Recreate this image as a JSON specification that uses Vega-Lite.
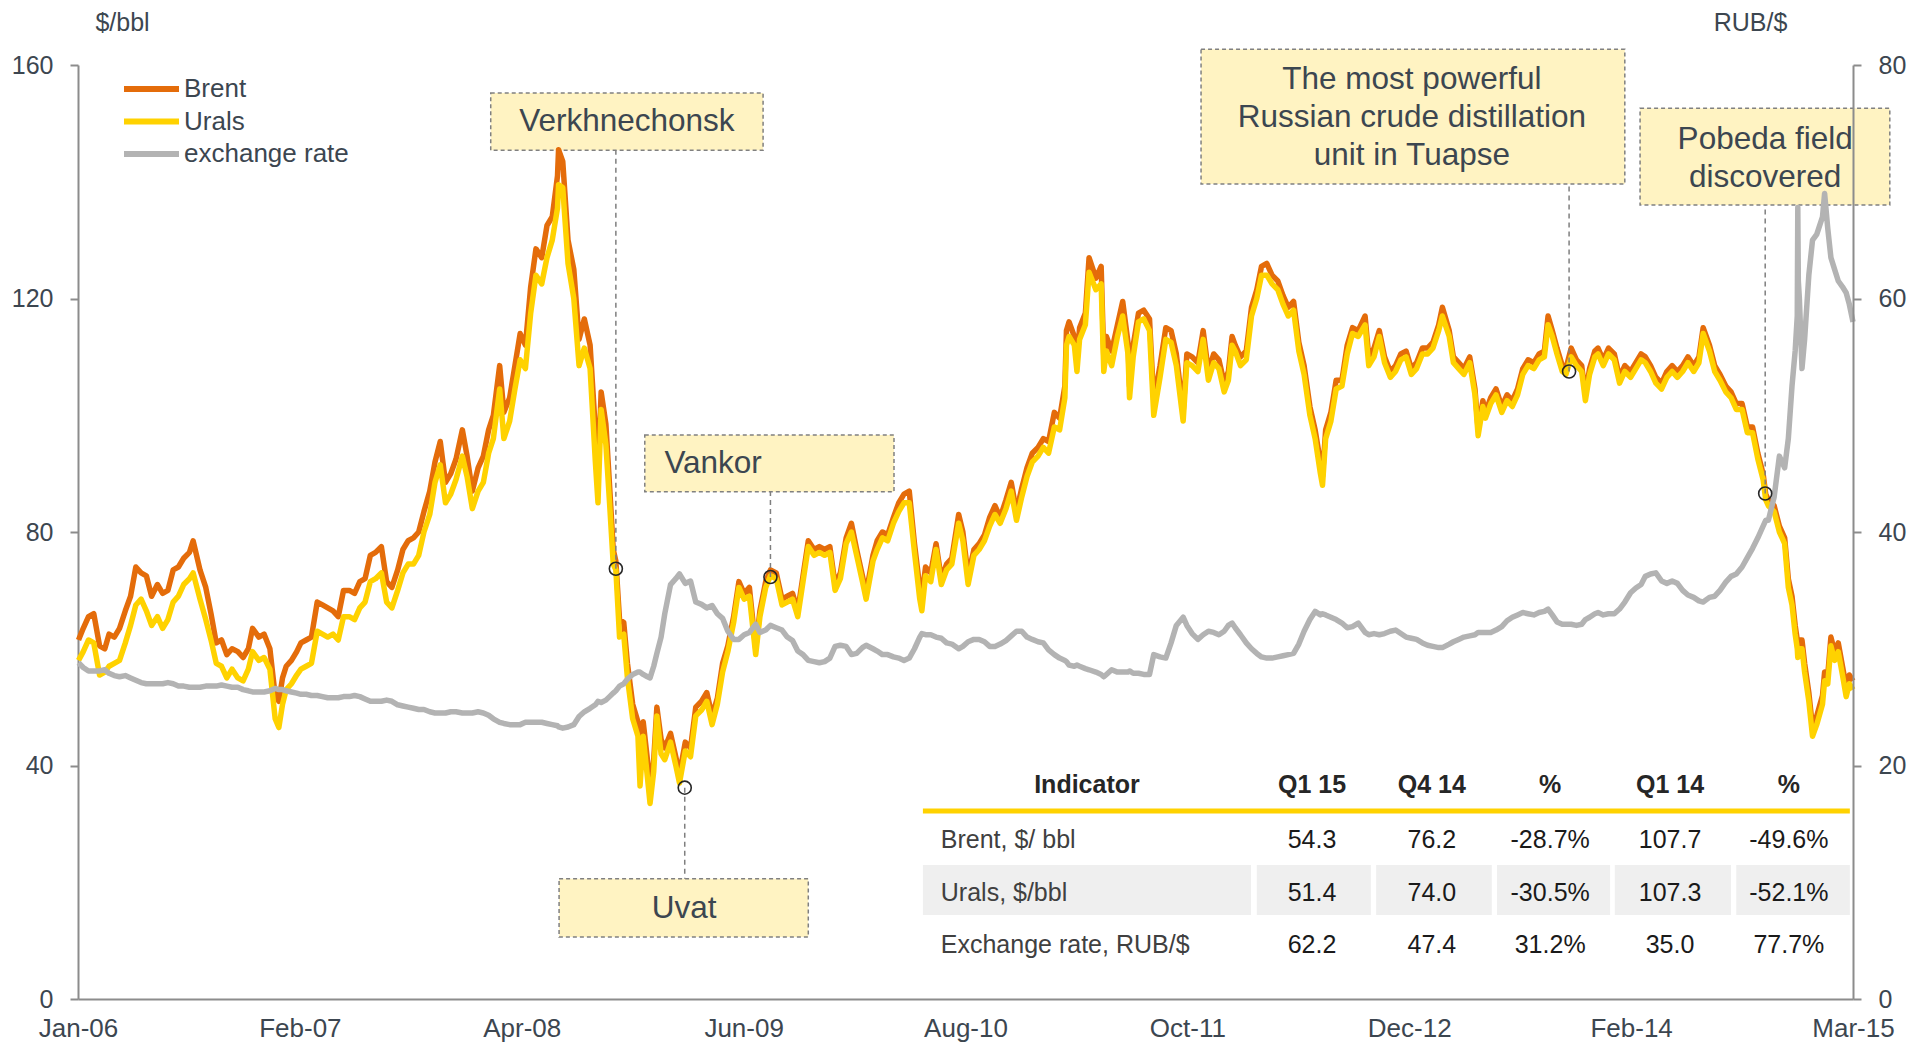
{
  "$schema": "https://vega.github.io/schema/vega-lite/v6.json",
  "width": 1775,
  "height": 934,
  "autosize": {"type": "none"},
  "padding": {"left": 78, "top": 65, "right": 73, "bottom": 46},
  "background": "white",
  "config": {
    "font": "Liberation Sans",
    "view": {"stroke": null},
    "legend": {
      "symbolType": "stroke",
      "symbolSize": 3025,
      "symbolStrokeWidth": 6,
      "clipHeight": 26,
      "rowPadding": 6.5,
      "labelOffset": 2,
      "labelFontSize": 26,
      "labelColor": "#3C4650",
      "labelLimit": 0,
      "padding": 0
    }
  },
  "datasets": {
    "prices": [
      {"d": "2006-01-02", "Brent": 61.5, "Urals": 58.0, "rub": 28.8},
      {"d": "2006-01-11", "Brent": 63.5, "Urals": 59.5, "rub": 28.4},
      {"d": "2006-01-21", "Brent": 65.5, "Urals": 61.5, "rub": 28.1},
      {"d": "2006-01-31", "Brent": 66.0, "Urals": 61.0, "rub": 28.1},
      {"d": "2006-02-11", "Brent": 60.5, "Urals": 55.5, "rub": 28.1},
      {"d": "2006-02-21", "Brent": 60.0, "Urals": 56.0, "rub": 28.2},
      {"d": "2006-03-01", "Brent": 62.5, "Urals": 57.0, "rub": 27.9},
      {"d": "2006-03-11", "Brent": 62.0, "Urals": 57.5, "rub": 27.7},
      {"d": "2006-03-21", "Brent": 63.5, "Urals": 58.0, "rub": 27.6},
      {"d": "2006-04-01", "Brent": 66.5, "Urals": 61.0, "rub": 27.7},
      {"d": "2006-04-11", "Brent": 69.0, "Urals": 64.0, "rub": 27.5},
      {"d": "2006-04-21", "Brent": 74.0, "Urals": 67.5, "rub": 27.3},
      {"d": "2006-05-01", "Brent": 73.0, "Urals": 68.5, "rub": 27.1},
      {"d": "2006-05-11", "Brent": 72.5, "Urals": 66.5, "rub": 27.0},
      {"d": "2006-05-21", "Brent": 69.0, "Urals": 64.0, "rub": 27.0},
      {"d": "2006-06-01", "Brent": 71.0, "Urals": 65.5, "rub": 27.0},
      {"d": "2006-06-11", "Brent": 69.5, "Urals": 63.5, "rub": 27.0},
      {"d": "2006-06-21", "Brent": 70.0, "Urals": 65.0, "rub": 27.1},
      {"d": "2006-07-01", "Brent": 73.5, "Urals": 68.0, "rub": 27.0},
      {"d": "2006-07-11", "Brent": 74.0, "Urals": 69.0, "rub": 26.8},
      {"d": "2006-07-21", "Brent": 75.5, "Urals": 71.0, "rub": 26.8},
      {"d": "2006-08-01", "Brent": 76.5, "Urals": 72.0, "rub": 26.7},
      {"d": "2006-08-08", "Brent": 78.5, "Urals": 73.0, "rub": 26.7},
      {"d": "2006-08-21", "Brent": 73.5, "Urals": 68.5, "rub": 26.7},
      {"d": "2006-09-01", "Brent": 70.5, "Urals": 65.0, "rub": 26.8},
      {"d": "2006-09-11", "Brent": 66.0, "Urals": 61.5, "rub": 26.8},
      {"d": "2006-09-21", "Brent": 61.0, "Urals": 57.5, "rub": 26.8},
      {"d": "2006-10-01", "Brent": 61.5, "Urals": 57.0, "rub": 26.9},
      {"d": "2006-10-11", "Brent": 59.0, "Urals": 55.0, "rub": 26.8},
      {"d": "2006-10-21", "Brent": 60.0, "Urals": 56.5, "rub": 26.7},
      {"d": "2006-11-01", "Brent": 59.5, "Urals": 55.0, "rub": 26.7},
      {"d": "2006-11-11", "Brent": 58.5, "Urals": 54.5, "rub": 26.5},
      {"d": "2006-11-21", "Brent": 60.0, "Urals": 56.5, "rub": 26.4},
      {"d": "2006-11-29", "Brent": 63.5, "Urals": 59.5, "rub": 26.3},
      {"d": "2006-12-11", "Brent": 62.0, "Urals": 58.0, "rub": 26.3},
      {"d": "2006-12-21", "Brent": 62.5, "Urals": 58.5, "rub": 26.3},
      {"d": "2007-01-01", "Brent": 60.0, "Urals": 56.5, "rub": 26.4},
      {"d": "2007-01-11", "Brent": 52.0, "Urals": 48.0, "rub": 26.6},
      {"d": "2007-01-18", "Brent": 51.0, "Urals": 46.5, "rub": 26.5},
      {"d": "2007-01-25", "Brent": 55.0, "Urals": 50.5, "rub": 26.5},
      {"d": "2007-02-01", "Brent": 57.0, "Urals": 53.0, "rub": 26.4},
      {"d": "2007-02-11", "Brent": 58.0, "Urals": 54.0, "rub": 26.3},
      {"d": "2007-02-21", "Brent": 59.5, "Urals": 55.5, "rub": 26.2},
      {"d": "2007-03-01", "Brent": 61.0, "Urals": 56.5, "rub": 26.1},
      {"d": "2007-03-11", "Brent": 61.5, "Urals": 57.0, "rub": 26.1},
      {"d": "2007-03-21", "Brent": 62.0, "Urals": 57.5, "rub": 26.0},
      {"d": "2007-04-01", "Brent": 68.0, "Urals": 63.0, "rub": 26.0},
      {"d": "2007-04-11", "Brent": 67.5, "Urals": 62.5, "rub": 25.9},
      {"d": "2007-04-21", "Brent": 67.0, "Urals": 62.0, "rub": 25.8},
      {"d": "2007-05-01", "Brent": 66.5, "Urals": 62.5, "rub": 25.8},
      {"d": "2007-05-11", "Brent": 65.5, "Urals": 61.5, "rub": 25.8},
      {"d": "2007-05-21", "Brent": 70.0, "Urals": 65.5, "rub": 25.9},
      {"d": "2007-06-01", "Brent": 70.0, "Urals": 65.5, "rub": 25.9},
      {"d": "2007-06-11", "Brent": 69.5, "Urals": 65.0, "rub": 26.0},
      {"d": "2007-06-21", "Brent": 71.5, "Urals": 67.0, "rub": 25.9},
      {"d": "2007-07-01", "Brent": 72.0, "Urals": 68.0, "rub": 25.7},
      {"d": "2007-07-11", "Brent": 76.0, "Urals": 71.5, "rub": 25.5},
      {"d": "2007-07-21", "Brent": 76.5, "Urals": 72.0, "rub": 25.5},
      {"d": "2007-08-01", "Brent": 77.5, "Urals": 73.0, "rub": 25.5},
      {"d": "2007-08-11", "Brent": 71.5, "Urals": 68.0, "rub": 25.6},
      {"d": "2007-08-21", "Brent": 70.5, "Urals": 67.0, "rub": 25.5},
      {"d": "2007-09-01", "Brent": 73.5, "Urals": 70.0, "rub": 25.2},
      {"d": "2007-09-11", "Brent": 77.0, "Urals": 73.0, "rub": 25.1},
      {"d": "2007-09-21", "Brent": 78.5, "Urals": 74.5, "rub": 25.0},
      {"d": "2007-10-01", "Brent": 79.0, "Urals": 74.5, "rub": 24.9},
      {"d": "2007-10-11", "Brent": 80.0, "Urals": 76.0, "rub": 24.8},
      {"d": "2007-10-21", "Brent": 83.5, "Urals": 80.0, "rub": 24.8},
      {"d": "2007-11-01", "Brent": 87.0, "Urals": 83.0, "rub": 24.6},
      {"d": "2007-11-11", "Brent": 92.0, "Urals": 88.5, "rub": 24.5},
      {"d": "2007-11-21", "Brent": 95.5, "Urals": 91.5, "rub": 24.5},
      {"d": "2007-12-01", "Brent": 88.5, "Urals": 85.0, "rub": 24.5},
      {"d": "2007-12-11", "Brent": 90.0, "Urals": 86.5, "rub": 24.6},
      {"d": "2007-12-21", "Brent": 92.5, "Urals": 89.0, "rub": 24.6},
      {"d": "2008-01-02", "Brent": 97.5, "Urals": 93.0, "rub": 24.5},
      {"d": "2008-01-11", "Brent": 93.0, "Urals": 89.5, "rub": 24.5},
      {"d": "2008-01-21", "Brent": 87.0, "Urals": 84.0, "rub": 24.5},
      {"d": "2008-02-01", "Brent": 91.0, "Urals": 87.0, "rub": 24.6},
      {"d": "2008-02-11", "Brent": 93.0, "Urals": 88.5, "rub": 24.5},
      {"d": "2008-02-21", "Brent": 97.5, "Urals": 93.5, "rub": 24.3},
      {"d": "2008-03-01", "Brent": 100.0, "Urals": 96.0, "rub": 24.0},
      {"d": "2008-03-13", "Brent": 108.5, "Urals": 104.5, "rub": 23.7},
      {"d": "2008-03-21", "Brent": 100.5, "Urals": 96.0, "rub": 23.6},
      {"d": "2008-04-01", "Brent": 103.0, "Urals": 99.0, "rub": 23.5},
      {"d": "2008-04-11", "Brent": 108.5, "Urals": 104.5, "rub": 23.5},
      {"d": "2008-04-21", "Brent": 114.0, "Urals": 109.5, "rub": 23.5},
      {"d": "2008-05-01", "Brent": 112.0, "Urals": 108.0, "rub": 23.7},
      {"d": "2008-05-11", "Brent": 122.0, "Urals": 117.5, "rub": 23.7},
      {"d": "2008-05-21", "Brent": 128.5, "Urals": 124.0, "rub": 23.7},
      {"d": "2008-06-01", "Brent": 127.0, "Urals": 122.5, "rub": 23.7},
      {"d": "2008-06-11", "Brent": 132.5, "Urals": 127.0, "rub": 23.6},
      {"d": "2008-06-21", "Brent": 134.0, "Urals": 130.0, "rub": 23.5},
      {"d": "2008-07-01", "Brent": 141.0, "Urals": 135.5, "rub": 23.4},
      {"d": "2008-07-03", "Brent": 145.5, "Urals": 139.5, "rub": 23.3},
      {"d": "2008-07-11", "Brent": 143.5, "Urals": 139.0, "rub": 23.2},
      {"d": "2008-07-21", "Brent": 130.0, "Urals": 126.0, "rub": 23.3},
      {"d": "2008-08-01", "Brent": 125.0, "Urals": 120.0, "rub": 23.5},
      {"d": "2008-08-11", "Brent": 113.0, "Urals": 108.5, "rub": 24.2},
      {"d": "2008-08-21", "Brent": 116.5, "Urals": 111.5, "rub": 24.6},
      {"d": "2008-09-01", "Brent": 112.0, "Urals": 108.0, "rub": 24.9},
      {"d": "2008-09-11", "Brent": 97.5, "Urals": 92.0, "rub": 25.2},
      {"d": "2008-09-16", "Brent": 89.5, "Urals": 85.0, "rub": 25.5},
      {"d": "2008-09-22", "Brent": 104.0, "Urals": 101.0, "rub": 25.4},
      {"d": "2008-10-01", "Brent": 98.5, "Urals": 95.0, "rub": 25.6},
      {"d": "2008-10-08", "Brent": 88.0, "Urals": 85.0, "rub": 25.9},
      {"d": "2008-10-15", "Brent": 77.0, "Urals": 74.5, "rub": 26.2},
      {"d": "2008-10-20", "Brent": 75.0, "Urals": 73.5, "rub": 26.4},
      {"d": "2008-10-27", "Brent": 65.0, "Urals": 62.0, "rub": 26.8},
      {"d": "2008-11-04", "Brent": 64.5, "Urals": 62.5, "rub": 27.0},
      {"d": "2008-11-11", "Brent": 57.5, "Urals": 55.0, "rub": 27.4},
      {"d": "2008-11-21", "Brent": 50.5, "Urals": 48.0, "rub": 27.8},
      {"d": "2008-12-01", "Brent": 47.5, "Urals": 45.0, "rub": 28.0},
      {"d": "2008-12-05", "Brent": 41.0, "Urals": 36.5, "rub": 28.0},
      {"d": "2008-12-11", "Brent": 47.5, "Urals": 45.0, "rub": 27.8},
      {"d": "2008-12-19", "Brent": 41.0, "Urals": 38.0, "rub": 27.6},
      {"d": "2008-12-24", "Brent": 35.5, "Urals": 33.5, "rub": 27.5},
      {"d": "2008-12-31", "Brent": 41.0, "Urals": 39.0, "rub": 28.5},
      {"d": "2009-01-06", "Brent": 50.0, "Urals": 48.5, "rub": 29.6},
      {"d": "2009-01-14", "Brent": 44.5, "Urals": 42.0, "rub": 31.0},
      {"d": "2009-01-21", "Brent": 43.0, "Urals": 41.0, "rub": 33.0},
      {"d": "2009-02-01", "Brent": 45.5, "Urals": 44.0, "rub": 35.5},
      {"d": "2009-02-11", "Brent": 41.5, "Urals": 40.0, "rub": 36.0},
      {"d": "2009-02-18", "Brent": 38.5, "Urals": 37.0, "rub": 36.4},
      {"d": "2009-03-01", "Brent": 44.0, "Urals": 42.5, "rub": 35.6},
      {"d": "2009-03-11", "Brent": 43.0, "Urals": 41.5, "rub": 35.8},
      {"d": "2009-03-21", "Brent": 50.0, "Urals": 48.5, "rub": 34.0},
      {"d": "2009-04-01", "Brent": 51.0, "Urals": 49.5, "rub": 33.8},
      {"d": "2009-04-11", "Brent": 52.5, "Urals": 51.0, "rub": 33.5},
      {"d": "2009-04-21", "Brent": 48.5, "Urals": 47.0, "rub": 33.7},
      {"d": "2009-05-01", "Brent": 51.5, "Urals": 50.5, "rub": 33.0},
      {"d": "2009-05-11", "Brent": 57.5, "Urals": 56.0, "rub": 32.6},
      {"d": "2009-05-21", "Brent": 60.5, "Urals": 59.5, "rub": 31.5},
      {"d": "2009-06-01", "Brent": 65.5, "Urals": 64.5, "rub": 30.8},
      {"d": "2009-06-11", "Brent": 71.5, "Urals": 70.5, "rub": 30.8},
      {"d": "2009-06-21", "Brent": 69.5, "Urals": 68.5, "rub": 31.2},
      {"d": "2009-07-01", "Brent": 70.5, "Urals": 69.0, "rub": 31.4},
      {"d": "2009-07-13", "Brent": 60.0, "Urals": 59.0, "rub": 32.1},
      {"d": "2009-07-21", "Brent": 66.5, "Urals": 65.5, "rub": 31.4},
      {"d": "2009-08-01", "Brent": 71.5, "Urals": 70.5, "rub": 31.6},
      {"d": "2009-08-10", "Brent": 73.5, "Urals": 72.5, "rub": 32.0},
      {"d": "2009-08-21", "Brent": 73.0, "Urals": 72.0, "rub": 31.8},
      {"d": "2009-09-01", "Brent": 68.5, "Urals": 67.5, "rub": 31.6},
      {"d": "2009-09-11", "Brent": 69.0, "Urals": 68.0, "rub": 31.0},
      {"d": "2009-09-21", "Brent": 69.5, "Urals": 68.5, "rub": 30.7},
      {"d": "2009-10-01", "Brent": 66.5, "Urals": 65.5, "rub": 29.8},
      {"d": "2009-10-11", "Brent": 72.5, "Urals": 71.5, "rub": 29.5},
      {"d": "2009-10-21", "Brent": 78.5, "Urals": 77.5, "rub": 29.0},
      {"d": "2009-11-01", "Brent": 77.0, "Urals": 76.0, "rub": 28.9},
      {"d": "2009-11-11", "Brent": 77.5, "Urals": 76.5, "rub": 28.8},
      {"d": "2009-11-21", "Brent": 77.0, "Urals": 76.0, "rub": 28.9},
      {"d": "2009-12-01", "Brent": 77.5, "Urals": 76.5, "rub": 29.2},
      {"d": "2009-12-11", "Brent": 71.0, "Urals": 70.0, "rub": 30.2},
      {"d": "2009-12-21", "Brent": 73.0, "Urals": 72.0, "rub": 30.3},
      {"d": "2010-01-01", "Brent": 79.0, "Urals": 78.0, "rub": 30.2},
      {"d": "2010-01-11", "Brent": 81.5, "Urals": 80.0, "rub": 29.5},
      {"d": "2010-01-21", "Brent": 77.0, "Urals": 76.0, "rub": 29.6},
      {"d": "2010-02-01", "Brent": 72.5, "Urals": 71.5, "rub": 30.1},
      {"d": "2010-02-08", "Brent": 69.5, "Urals": 68.5, "rub": 30.3},
      {"d": "2010-02-21", "Brent": 76.0, "Urals": 75.0, "rub": 30.0},
      {"d": "2010-03-01", "Brent": 78.5, "Urals": 77.0, "rub": 29.8},
      {"d": "2010-03-11", "Brent": 80.0, "Urals": 79.0, "rub": 29.5},
      {"d": "2010-03-21", "Brent": 79.5, "Urals": 78.5, "rub": 29.5},
      {"d": "2010-04-01", "Brent": 82.5, "Urals": 81.5, "rub": 29.3},
      {"d": "2010-04-11", "Brent": 85.0, "Urals": 83.5, "rub": 29.2},
      {"d": "2010-04-21", "Brent": 86.5, "Urals": 85.0, "rub": 29.0},
      {"d": "2010-05-01", "Brent": 87.0, "Urals": 85.0, "rub": 29.2},
      {"d": "2010-05-11", "Brent": 78.0, "Urals": 76.5, "rub": 30.0},
      {"d": "2010-05-21", "Brent": 70.5, "Urals": 68.5, "rub": 31.0},
      {"d": "2010-05-25", "Brent": 69.0, "Urals": 66.5, "rub": 31.3},
      {"d": "2010-06-01", "Brent": 74.0, "Urals": 72.5, "rub": 31.2},
      {"d": "2010-06-11", "Brent": 73.0, "Urals": 71.5, "rub": 31.2},
      {"d": "2010-06-21", "Brent": 78.0, "Urals": 77.0, "rub": 31.0},
      {"d": "2010-07-01", "Brent": 72.0, "Urals": 71.0, "rub": 30.9},
      {"d": "2010-07-11", "Brent": 74.5, "Urals": 73.5, "rub": 30.5},
      {"d": "2010-07-21", "Brent": 75.5, "Urals": 74.5, "rub": 30.4},
      {"d": "2010-08-03", "Brent": 83.0, "Urals": 81.5, "rub": 30.0},
      {"d": "2010-08-11", "Brent": 80.0, "Urals": 78.5, "rub": 30.2},
      {"d": "2010-08-21", "Brent": 72.5, "Urals": 71.0, "rub": 30.6},
      {"d": "2010-09-01", "Brent": 77.0, "Urals": 76.0, "rub": 30.8},
      {"d": "2010-09-11", "Brent": 78.0, "Urals": 77.0, "rub": 30.8},
      {"d": "2010-09-21", "Brent": 79.5, "Urals": 78.5, "rub": 30.6},
      {"d": "2010-10-01", "Brent": 82.5, "Urals": 81.0, "rub": 30.2},
      {"d": "2010-10-11", "Brent": 84.5, "Urals": 83.0, "rub": 30.2},
      {"d": "2010-10-21", "Brent": 82.5, "Urals": 81.5, "rub": 30.4},
      {"d": "2010-11-01", "Brent": 85.5, "Urals": 84.0, "rub": 30.7},
      {"d": "2010-11-11", "Brent": 88.5, "Urals": 87.0, "rub": 31.1},
      {"d": "2010-11-21", "Brent": 83.5, "Urals": 82.0, "rub": 31.5},
      {"d": "2010-12-01", "Brent": 87.5, "Urals": 86.0, "rub": 31.5},
      {"d": "2010-12-11", "Brent": 91.0, "Urals": 89.5, "rub": 31.0},
      {"d": "2010-12-21", "Brent": 93.5, "Urals": 92.0, "rub": 30.8},
      {"d": "2011-01-01", "Brent": 94.5, "Urals": 93.0, "rub": 30.6},
      {"d": "2011-01-11", "Brent": 96.0, "Urals": 94.5, "rub": 30.5},
      {"d": "2011-01-21", "Brent": 95.5, "Urals": 93.5, "rub": 29.9},
      {"d": "2011-02-01", "Brent": 100.5, "Urals": 98.0, "rub": 29.5},
      {"d": "2011-02-11", "Brent": 99.5, "Urals": 97.5, "rub": 29.2},
      {"d": "2011-02-21", "Brent": 105.0, "Urals": 103.0, "rub": 29.0},
      {"d": "2011-02-24", "Brent": 114.5, "Urals": 112.0, "rub": 28.9},
      {"d": "2011-03-01", "Brent": 116.0, "Urals": 113.5, "rub": 28.6},
      {"d": "2011-03-11", "Brent": 113.5, "Urals": 112.0, "rub": 28.5},
      {"d": "2011-03-16", "Brent": 109.0, "Urals": 107.5, "rub": 28.6},
      {"d": "2011-03-21", "Brent": 115.0, "Urals": 113.0, "rub": 28.5},
      {"d": "2011-04-01", "Brent": 117.5, "Urals": 115.5, "rub": 28.3},
      {"d": "2011-04-08", "Brent": 127.0, "Urals": 124.5, "rub": 28.2},
      {"d": "2011-04-21", "Brent": 123.5, "Urals": 121.5, "rub": 28.0},
      {"d": "2011-05-01", "Brent": 125.5, "Urals": 122.5, "rub": 27.8},
      {"d": "2011-05-06", "Brent": 110.0, "Urals": 107.5, "rub": 27.6},
      {"d": "2011-05-11", "Brent": 113.5, "Urals": 111.0, "rub": 27.8},
      {"d": "2011-05-21", "Brent": 111.0, "Urals": 108.5, "rub": 28.2},
      {"d": "2011-06-01", "Brent": 115.5, "Urals": 113.5, "rub": 28.0},
      {"d": "2011-06-11", "Brent": 119.5, "Urals": 117.0, "rub": 28.0},
      {"d": "2011-06-21", "Brent": 112.5, "Urals": 110.5, "rub": 28.0},
      {"d": "2011-06-24", "Brent": 105.0, "Urals": 103.0, "rub": 28.1},
      {"d": "2011-07-01", "Brent": 112.0, "Urals": 110.0, "rub": 27.9},
      {"d": "2011-07-11", "Brent": 117.5, "Urals": 116.0, "rub": 27.9},
      {"d": "2011-07-21", "Brent": 118.0, "Urals": 116.5, "rub": 27.8},
      {"d": "2011-08-01", "Brent": 116.5, "Urals": 114.5, "rub": 27.8},
      {"d": "2011-08-09", "Brent": 102.5, "Urals": 100.0, "rub": 29.5},
      {"d": "2011-08-21", "Brent": 108.5, "Urals": 106.5, "rub": 29.3},
      {"d": "2011-09-01", "Brent": 115.0, "Urals": 113.0, "rub": 29.2},
      {"d": "2011-09-11", "Brent": 114.5, "Urals": 112.5, "rub": 30.5},
      {"d": "2011-09-21", "Brent": 110.5, "Urals": 108.5, "rub": 32.0},
      {"d": "2011-10-04", "Brent": 100.5, "Urals": 99.0, "rub": 32.7},
      {"d": "2011-10-11", "Brent": 110.5, "Urals": 109.0, "rub": 32.0},
      {"d": "2011-10-21", "Brent": 110.0, "Urals": 108.5, "rub": 31.3},
      {"d": "2011-11-01", "Brent": 109.0, "Urals": 107.5, "rub": 30.8},
      {"d": "2011-11-11", "Brent": 114.5, "Urals": 113.0, "rub": 31.2},
      {"d": "2011-11-21", "Brent": 107.5, "Urals": 106.0, "rub": 31.5},
      {"d": "2011-12-01", "Brent": 110.5, "Urals": 109.0, "rub": 31.4},
      {"d": "2011-12-11", "Brent": 109.5, "Urals": 108.0, "rub": 31.2},
      {"d": "2011-12-21", "Brent": 105.5, "Urals": 104.0, "rub": 31.5},
      {"d": "2011-12-29", "Brent": 107.5, "Urals": 106.0, "rub": 32.0},
      {"d": "2012-01-05", "Brent": 113.5, "Urals": 112.0, "rub": 32.2},
      {"d": "2012-01-11", "Brent": 112.0, "Urals": 111.0, "rub": 31.8},
      {"d": "2012-01-21", "Brent": 110.0, "Urals": 108.5, "rub": 31.2},
      {"d": "2012-02-01", "Brent": 111.0, "Urals": 109.5, "rub": 30.5},
      {"d": "2012-02-11", "Brent": 118.5, "Urals": 117.0, "rub": 30.0},
      {"d": "2012-02-21", "Brent": 121.5, "Urals": 120.0, "rub": 29.6},
      {"d": "2012-03-01", "Brent": 125.5, "Urals": 124.0, "rub": 29.3},
      {"d": "2012-03-11", "Brent": 126.0, "Urals": 124.0, "rub": 29.2},
      {"d": "2012-03-21", "Brent": 124.0, "Urals": 122.5, "rub": 29.2},
      {"d": "2012-04-01", "Brent": 123.0, "Urals": 121.5, "rub": 29.3},
      {"d": "2012-04-11", "Brent": 120.5, "Urals": 119.0, "rub": 29.4},
      {"d": "2012-04-21", "Brent": 118.5, "Urals": 117.0, "rub": 29.5},
      {"d": "2012-05-01", "Brent": 119.5, "Urals": 118.0, "rub": 29.6},
      {"d": "2012-05-11", "Brent": 112.5, "Urals": 111.0, "rub": 30.4},
      {"d": "2012-05-21", "Brent": 108.5, "Urals": 107.0, "rub": 31.5},
      {"d": "2012-06-01", "Brent": 101.5, "Urals": 100.0, "rub": 32.5},
      {"d": "2012-06-11", "Brent": 97.5, "Urals": 96.0, "rub": 33.2},
      {"d": "2012-06-21", "Brent": 92.0, "Urals": 90.0, "rub": 32.9},
      {"d": "2012-06-25", "Brent": 89.5, "Urals": 88.0, "rub": 33.0},
      {"d": "2012-07-01", "Brent": 97.5, "Urals": 96.0, "rub": 32.9},
      {"d": "2012-07-11", "Brent": 100.5, "Urals": 99.0, "rub": 32.7},
      {"d": "2012-07-21", "Brent": 106.0, "Urals": 104.5, "rub": 32.5},
      {"d": "2012-08-01", "Brent": 106.0, "Urals": 105.0, "rub": 32.2},
      {"d": "2012-08-11", "Brent": 112.0, "Urals": 110.5, "rub": 31.8},
      {"d": "2012-08-21", "Brent": 115.0, "Urals": 114.0, "rub": 31.9},
      {"d": "2012-09-01", "Brent": 114.5, "Urals": 113.5, "rub": 32.2},
      {"d": "2012-09-14", "Brent": 117.0, "Urals": 115.5, "rub": 31.4},
      {"d": "2012-09-21", "Brent": 110.0, "Urals": 108.5, "rub": 31.2},
      {"d": "2012-10-01", "Brent": 111.5, "Urals": 110.0, "rub": 31.3},
      {"d": "2012-10-11", "Brent": 114.5, "Urals": 113.5, "rub": 31.2},
      {"d": "2012-10-21", "Brent": 110.0, "Urals": 109.0, "rub": 31.3},
      {"d": "2012-11-01", "Brent": 107.5, "Urals": 106.5, "rub": 31.5},
      {"d": "2012-11-11", "Brent": 108.5, "Urals": 107.5, "rub": 31.6},
      {"d": "2012-11-21", "Brent": 110.5, "Urals": 109.5, "rub": 31.3},
      {"d": "2012-12-01", "Brent": 111.0, "Urals": 110.0, "rub": 31.0},
      {"d": "2012-12-11", "Brent": 108.0, "Urals": 107.0, "rub": 30.9},
      {"d": "2012-12-21", "Brent": 109.0, "Urals": 108.0, "rub": 30.8},
      {"d": "2013-01-01", "Brent": 111.5, "Urals": 110.5, "rub": 30.5},
      {"d": "2013-01-11", "Brent": 111.5, "Urals": 110.5, "rub": 30.3},
      {"d": "2013-01-21", "Brent": 112.5, "Urals": 111.5, "rub": 30.2},
      {"d": "2013-02-01", "Brent": 115.5, "Urals": 114.5, "rub": 30.1},
      {"d": "2013-02-08", "Brent": 118.5, "Urals": 117.0, "rub": 30.1},
      {"d": "2013-02-21", "Brent": 114.5, "Urals": 113.5, "rub": 30.4},
      {"d": "2013-03-01", "Brent": 110.0, "Urals": 109.0, "rub": 30.6},
      {"d": "2013-03-11", "Brent": 109.0, "Urals": 108.0, "rub": 30.8},
      {"d": "2013-03-21", "Brent": 108.0, "Urals": 107.0, "rub": 31.0},
      {"d": "2013-04-01", "Brent": 110.0, "Urals": 109.0, "rub": 31.1},
      {"d": "2013-04-11", "Brent": 104.5, "Urals": 103.5, "rub": 31.2},
      {"d": "2013-04-17", "Brent": 97.5, "Urals": 96.5, "rub": 31.4},
      {"d": "2013-04-26", "Brent": 102.5, "Urals": 101.5, "rub": 31.4},
      {"d": "2013-05-01", "Brent": 100.5, "Urals": 99.5, "rub": 31.4},
      {"d": "2013-05-11", "Brent": 103.0, "Urals": 102.0, "rub": 31.4},
      {"d": "2013-05-21", "Brent": 104.5, "Urals": 103.5, "rub": 31.6},
      {"d": "2013-06-01", "Brent": 101.5, "Urals": 100.5, "rub": 31.9},
      {"d": "2013-06-11", "Brent": 103.5, "Urals": 102.5, "rub": 32.4},
      {"d": "2013-06-21", "Brent": 102.5, "Urals": 101.5, "rub": 32.7},
      {"d": "2013-07-01", "Brent": 104.5, "Urals": 103.5, "rub": 32.9},
      {"d": "2013-07-11", "Brent": 108.0, "Urals": 107.0, "rub": 33.1},
      {"d": "2013-07-21", "Brent": 109.5, "Urals": 108.5, "rub": 33.0},
      {"d": "2013-08-01", "Brent": 109.0, "Urals": 108.0, "rub": 32.9},
      {"d": "2013-08-11", "Brent": 110.5, "Urals": 109.5, "rub": 33.1},
      {"d": "2013-08-21", "Brent": 111.0, "Urals": 110.0, "rub": 33.2},
      {"d": "2013-08-28", "Brent": 117.0, "Urals": 115.5, "rub": 33.4},
      {"d": "2013-09-05", "Brent": 114.5, "Urals": 113.5, "rub": 32.9},
      {"d": "2013-09-14", "Brent": 111.5, "Urals": 110.5, "rub": 32.3},
      {"d": "2013-09-24", "Brent": 108.5, "Urals": 107.5, "rub": 32.1},
      {"d": "2013-10-01", "Brent": 108.0, "Urals": 107.0, "rub": 32.1},
      {"d": "2013-10-11", "Brent": 111.5, "Urals": 110.0, "rub": 32.1},
      {"d": "2013-10-21", "Brent": 109.5, "Urals": 108.5, "rub": 32.0},
      {"d": "2013-10-31", "Brent": 108.5, "Urals": 107.5, "rub": 32.1},
      {"d": "2013-11-07", "Brent": 103.5, "Urals": 102.5, "rub": 32.5},
      {"d": "2013-11-15", "Brent": 108.0, "Urals": 107.0, "rub": 32.7},
      {"d": "2013-11-25", "Brent": 111.0, "Urals": 110.0, "rub": 33.0},
      {"d": "2013-12-01", "Brent": 111.5, "Urals": 110.5, "rub": 33.1},
      {"d": "2013-12-11", "Brent": 109.5, "Urals": 108.5, "rub": 32.9},
      {"d": "2013-12-21", "Brent": 111.5, "Urals": 110.5, "rub": 33.0},
      {"d": "2014-01-01", "Brent": 110.5, "Urals": 109.5, "rub": 33.0},
      {"d": "2014-01-11", "Brent": 106.5, "Urals": 105.5, "rub": 33.4},
      {"d": "2014-01-21", "Brent": 108.5, "Urals": 107.5, "rub": 34.0},
      {"d": "2014-02-01", "Brent": 107.5, "Urals": 106.5, "rub": 34.8},
      {"d": "2014-02-11", "Brent": 109.0, "Urals": 108.0, "rub": 35.2},
      {"d": "2014-02-21", "Brent": 110.5, "Urals": 109.5, "rub": 35.5},
      {"d": "2014-03-01", "Brent": 110.0, "Urals": 109.0, "rub": 36.2},
      {"d": "2014-03-11", "Brent": 108.5, "Urals": 107.5, "rub": 36.4},
      {"d": "2014-03-21", "Brent": 106.5, "Urals": 105.5, "rub": 36.5},
      {"d": "2014-04-01", "Brent": 105.5, "Urals": 104.5, "rub": 35.8},
      {"d": "2014-04-11", "Brent": 107.5, "Urals": 106.5, "rub": 35.6},
      {"d": "2014-04-21", "Brent": 108.5, "Urals": 107.5, "rub": 35.8},
      {"d": "2014-05-01", "Brent": 107.5, "Urals": 106.5, "rub": 35.6},
      {"d": "2014-05-11", "Brent": 108.5, "Urals": 107.5, "rub": 35.0},
      {"d": "2014-05-21", "Brent": 110.0, "Urals": 109.0, "rub": 34.6},
      {"d": "2014-06-01", "Brent": 108.5, "Urals": 107.5, "rub": 34.4},
      {"d": "2014-06-11", "Brent": 110.0, "Urals": 109.0, "rub": 34.1},
      {"d": "2014-06-19", "Brent": 115.0, "Urals": 114.0, "rub": 34.0},
      {"d": "2014-07-01", "Brent": 112.0, "Urals": 111.0, "rub": 34.4},
      {"d": "2014-07-11", "Brent": 108.5, "Urals": 107.5, "rub": 34.5},
      {"d": "2014-07-21", "Brent": 107.0, "Urals": 106.0, "rub": 35.0},
      {"d": "2014-08-01", "Brent": 105.0, "Urals": 104.0, "rub": 35.7},
      {"d": "2014-08-11", "Brent": 104.0, "Urals": 103.0, "rub": 36.2},
      {"d": "2014-08-21", "Brent": 102.0, "Urals": 101.0, "rub": 36.4},
      {"d": "2014-09-01", "Brent": 102.0, "Urals": 101.0, "rub": 37.0},
      {"d": "2014-09-11", "Brent": 98.0, "Urals": 97.0, "rub": 37.8},
      {"d": "2014-09-21", "Brent": 98.0, "Urals": 97.0, "rub": 38.6},
      {"d": "2014-10-01", "Brent": 93.5, "Urals": 92.5, "rub": 39.5},
      {"d": "2014-10-11", "Brent": 90.0, "Urals": 89.0, "rub": 40.5},
      {"d": "2014-10-16", "Brent": 86.5, "Urals": 85.5, "rub": 41.0},
      {"d": "2014-10-21", "Brent": 85.5, "Urals": 84.5, "rub": 41.0},
      {"d": "2014-11-01", "Brent": 84.5, "Urals": 83.5, "rub": 43.0},
      {"d": "2014-11-11", "Brent": 81.0, "Urals": 80.0, "rub": 46.5},
      {"d": "2014-11-21", "Brent": 79.0, "Urals": 78.0, "rub": 45.5},
      {"d": "2014-11-28", "Brent": 72.0, "Urals": 70.5, "rub": 48.0},
      {"d": "2014-12-05", "Brent": 69.0, "Urals": 67.5, "rub": 52.5},
      {"d": "2014-12-11", "Brent": 64.0, "Urals": 62.5, "rub": 55.5},
      {"d": "2014-12-15", "Brent": 61.5, "Urals": 60.0, "rub": 58.5},
      {"d": "2014-12-16", "Brent": 60.0, "Urals": 58.5, "rub": 67.8},
      {"d": "2014-12-17", "Brent": 61.0, "Urals": 59.5, "rub": 61.5},
      {"d": "2014-12-19", "Brent": 61.5, "Urals": 60.0, "rub": 60.0},
      {"d": "2014-12-24", "Brent": 61.5, "Urals": 60.0, "rub": 54.0},
      {"d": "2014-12-29", "Brent": 57.5, "Urals": 56.0, "rub": 56.5},
      {"d": "2015-01-06", "Brent": 52.5, "Urals": 51.0, "rub": 62.0},
      {"d": "2015-01-13", "Brent": 46.5, "Urals": 45.0, "rub": 65.0},
      {"d": "2015-01-21", "Brent": 48.5, "Urals": 47.0, "rub": 65.5},
      {"d": "2015-02-01", "Brent": 52.0, "Urals": 50.5, "rub": 67.0},
      {"d": "2015-02-05", "Brent": 56.0, "Urals": 54.5, "rub": 69.0},
      {"d": "2015-02-11", "Brent": 55.5, "Urals": 54.0, "rub": 66.0},
      {"d": "2015-02-17", "Brent": 62.0, "Urals": 60.5, "rub": 63.5},
      {"d": "2015-02-24", "Brent": 59.5, "Urals": 58.0, "rub": 62.5},
      {"d": "2015-03-03", "Brent": 61.0, "Urals": 59.5, "rub": 61.5},
      {"d": "2015-03-11", "Brent": 57.0, "Urals": 55.5, "rub": 61.0},
      {"d": "2015-03-18", "Brent": 53.5, "Urals": 51.8, "rub": 60.5},
      {"d": "2015-03-24", "Brent": 55.5, "Urals": 54.0, "rub": 59.5},
      {"d": "2015-03-31", "Brent": 54.5, "Urals": 53.0, "rub": 58.0}
    ],
    "boxes": [
      {"name": "Verkhnechonsk", "d": "2008-02-25", "d2": "2009-07-27", "p": 145.4, "p2": 155.2},
      {"name": "Vankor", "d": "2008-12-14", "d2": "2010-04-02", "p": 86.9, "p2": 96.6},
      {"name": "Uvat", "d": "2008-07-04", "d2": "2009-10-21", "p": 10.6, "p2": 20.6},
      {"name": "Tuapse", "d": "2011-11-07", "d2": "2014-01-21", "p": 139.6, "p2": 162.7},
      {"name": "Pobeda", "d": "2014-02-19", "d2": "2015-06-09", "p": 136.0, "p2": 152.6}
    ],
    "callouts": [
      {"name": "Verkhnechonsk", "d": "2008-10-20", "p": 73.7, "p2": 145.4},
      {"name": "Vankor", "d": "2009-08-10", "p": 72.3, "p2": 86.9},
      {"name": "Uvat", "d": "2009-02-28", "p": 36.2, "p2": 20.6},
      {"name": "Tuapse", "d": "2013-10-07", "p": 107.5, "p2": 139.6},
      {"name": "Pobeda", "d": "2014-10-15", "p": 86.6, "p2": 136.0}
    ],
    "notes": [
      {"t": ["Verkhnechonsk"], "d": "2008-11-10", "p": 150.3},
      {"t": ["Vankor"], "d": "2009-04-23", "p": 91.7},
      {"t": ["Uvat"], "d": "2009-02-27", "p": 15.5},
      {"t": ["The most powerful", "Russian crude distillation", "unit in Tuapse"], "d": "2012-12-12", "p": 157.5},
      {"t": ["Pobeda field", "discovered"], "d": "2014-10-15", "p": 147.2}
    ],
    "tableBand": [
      {"d": "2010-05-27", "d2": "2012-02-10", "p": 14.4, "p2": 22.95},
      {"d": "2012-02-21", "d2": "2012-09-25", "p": 14.4, "p2": 22.95},
      {"d": "2012-10-05", "d2": "2013-05-13", "p": 14.4, "p2": 22.95},
      {"d": "2013-05-23", "d2": "2013-12-24", "p": 14.4, "p2": 22.95},
      {"d": "2014-01-02", "d2": "2014-08-11", "p": 14.4, "p2": 22.95},
      {"d": "2014-08-21", "d2": "2015-03-25", "p": 14.4, "p2": 22.95}
    ],
    "tableRule": [
      {"d": "2010-05-27", "d2": "2015-03-25", "p": 32.2}
    ],
    "tableHead": [
      {"t": "Indicator", "d": "2011-04-04", "p": 36.7},
      {"t": "Q1 15", "d": "2012-06-05", "p": 36.7},
      {"t": "Q4 14", "d": "2013-01-19", "p": 36.7},
      {"t": "%", "d": "2013-09-01", "p": 36.7},
      {"t": "Q1 14", "d": "2014-04-17", "p": 36.7},
      {"t": "%", "d": "2014-11-29", "p": 36.7}
    ],
    "tableLabels": [
      {"t": "Brent, $/ bbl", "d": "2010-06-30", "p": 27.2},
      {"t": "Urals, $/bbl", "d": "2010-06-30", "p": 18.2},
      {"t": "Exchange rate, RUB/$", "d": "2010-06-30", "p": 9.3}
    ],
    "tableValues": [
      {"t": "54.3", "d": "2012-06-05", "p": 27.2},
      {"t": "76.2", "d": "2013-01-19", "p": 27.2},
      {"t": "-28.7%", "d": "2013-09-01", "p": 27.2},
      {"t": "107.7", "d": "2014-04-17", "p": 27.2},
      {"t": "-49.6%", "d": "2014-11-29", "p": 27.2},
      {"t": "51.4", "d": "2012-06-05", "p": 18.2},
      {"t": "74.0", "d": "2013-01-19", "p": 18.2},
      {"t": "-30.5%", "d": "2013-09-01", "p": 18.2},
      {"t": "107.3", "d": "2014-04-17", "p": 18.2},
      {"t": "-52.1%", "d": "2014-11-29", "p": 18.2},
      {"t": "62.2", "d": "2012-06-05", "p": 9.3},
      {"t": "47.4", "d": "2013-01-19", "p": 9.3},
      {"t": "31.2%", "d": "2013-09-01", "p": 9.3},
      {"t": "35.0", "d": "2014-04-17", "p": 9.3},
      {"t": "77.7%", "d": "2014-11-29", "p": 9.3}
    ]
  },
  "encoding": {
    "x": {
      "field": "d",
      "type": "temporal",
      "scale": {"domain": [{"year": 2006, "month": 1, "date": 1}, {"year": 2015, "month": 3, "date": 31}]},
      "axis": {
        "title": null,
        "values": [
          {"year": 2006, "month": 1, "date": 1},
          {"year": 2007, "month": 2, "date": 27},
          {"year": 2008, "month": 4, "date": 24},
          {"year": 2009, "month": 6, "date": 20},
          {"year": 2010, "month": 8, "date": 16},
          {"year": 2011, "month": 10, "date": 12},
          {"year": 2012, "month": 12, "date": 7},
          {"year": 2014, "month": 2, "date": 2},
          {"year": 2015, "month": 3, "date": 31}
        ],
        "format": "%b-%y",
        "grid": false,
        "ticks": false,
        "tickSize": 0,
        "labelPadding": 16,
        "labelFontSize": 26,
        "labelColor": "#3C4650",
        "labelOverlap": false,
        "labelFlush": false,
        "domainColor": "#8C8C8C",
        "domainWidth": 2
      }
    }
  },
  "layer": [
    {
      "encoding": {
        "y": {
          "field": "p",
          "type": "quantitative",
          "scale": {"domain": [0, 160], "nice": false, "zero": false},
          "axis": {
            "orient": "left",
            "values": [0, 40, 80, 120, 160],
            "grid": false,
            "title": "$/bbl",
            "titleAngle": 0,
            "titleX": 44,
            "titleY": -43,
            "titleAlign": "center",
            "titleBaseline": "middle",
            "titleFontSize": 25,
            "titleFontWeight": "normal",
            "titleColor": "#3C4650",
            "labelFontSize": 25,
            "labelColor": "#3C4650",
            "labelPadding": 17,
            "tickSize": 8,
            "tickWidth": 2,
            "tickColor": "#8C8C8C",
            "domainColor": "#8C8C8C",
            "domainWidth": 2
          }
        }
      },
      "layer": [
        {
          "data": {"name": "boxes"},
          "mark": {"type": "rect", "fill": "#FFF3C2", "stroke": "#808080", "strokeWidth": 1.5, "strokeDash": [4, 3]},
          "encoding": {"x2": {"field": "d2"}, "y2": {"field": "p2"}}
        },
        {
          "data": {"name": "tableBand"},
          "mark": {"type": "rect", "fill": "#EFEFEF"},
          "encoding": {"x2": {"field": "d2"}, "y2": {"field": "p2"}}
        },
        {
          "data": {"name": "prices"},
          "transform": [
            {"fold": ["Brent", "Urals"], "as": ["series", "p"]},
            {"filter": "datum.series === 'Brent'"}
          ],
          "mark": {"type": "line", "strokeWidth": 5.5, "strokeJoin": "round"},
          "encoding": {
            "color": {
              "field": "series",
              "type": "nominal",
              "scale": {"domain": ["Brent", "Urals", "exchange rate"], "range": ["#E46C0A", "#FFD200", "#B3B3B3"]},
              "legend": {"orient": "none", "legendX": 43, "legendY": 11, "title": null}
            }
          }
        },
        {
          "data": {"name": "prices"},
          "transform": [
            {"fold": ["Brent", "Urals"], "as": ["series", "p"]},
            {"filter": "datum.series === 'Urals'"}
          ],
          "mark": {"type": "line", "strokeWidth": 5.5, "strokeJoin": "round"},
          "encoding": {
            "color": {
              "field": "series",
              "type": "nominal",
              "scale": {"domain": ["Brent", "Urals", "exchange rate"], "range": ["#E46C0A", "#FFD200", "#B3B3B3"]},
              "legend": {"orient": "none", "legendX": 43, "legendY": 11, "title": null}
            }
          }
        }
      ]
    },
    {
      "data": {"name": "prices"},
      "mark": {"type": "line", "strokeWidth": 5.5, "strokeJoin": "round"},
      "encoding": {
        "y": {
          "field": "rub",
          "type": "quantitative",
          "scale": {"domain": [0, 80], "nice": false, "zero": false},
          "axis": {
            "orient": "right",
            "values": [0, 20, 40, 60, 80],
            "grid": false,
            "zindex": 1,
            "title": "RUB/$",
            "titleAngle": 0,
            "titleX": -103,
            "titleY": -43,
            "titleAlign": "center",
            "titleBaseline": "middle",
            "titleFontSize": 25,
            "titleFontWeight": "normal",
            "titleColor": "#3C4650",
            "labelFontSize": 25,
            "labelColor": "#3C4650",
            "labelPadding": 17,
            "tickSize": 8,
            "tickWidth": 2,
            "tickColor": "#8C8C8C",
            "domainColor": "#8C8C8C",
            "domainWidth": 2
          }
        },
        "color": {
          "datum": "exchange rate",
          "type": "nominal",
          "scale": {"domain": ["Brent", "Urals", "exchange rate"], "range": ["#E46C0A", "#FFD200", "#B3B3B3"]},
          "legend": {"orient": "none", "legendX": 43, "legendY": 11, "title": null}
        }
      }
    },
    {
      "encoding": {
        "y": {
          "field": "p",
          "type": "quantitative",
          "scale": {"domain": [0, 160], "nice": false, "zero": false},
          "axis": null
        }
      },
      "layer": [
        {
          "data": {"name": "callouts"},
          "mark": {"type": "rule", "stroke": "#7F7F7F", "strokeWidth": 1.5, "strokeDash": [5, 4]},
          "encoding": {"y2": {"field": "p2"}}
        },
        {
          "data": {"name": "callouts"},
          "mark": {"type": "point", "shape": "circle", "filled": false, "size": 170, "stroke": "#262626", "strokeWidth": 1.6, "opacity": 1},
          "encoding": {}
        },
        {
          "data": {"name": "notes"},
          "mark": {"type": "text", "fontSize": 31.5, "color": "#3C4650", "align": "center", "baseline": "middle", "lineHeight": 38},
          "encoding": {"text": {"field": "t"}}
        },
        {
          "data": {"name": "tableRule"},
          "mark": {"type": "rule", "stroke": "#FFD200", "strokeWidth": 5},
          "encoding": {"x2": {"field": "d2"}}
        },
        {
          "data": {"name": "tableHead"},
          "mark": {"type": "text", "fontSize": 25, "fontWeight": "bold", "color": "#262626", "align": "center", "baseline": "middle"},
          "encoding": {"text": {"field": "t"}}
        },
        {
          "data": {"name": "tableLabels"},
          "mark": {"type": "text", "fontSize": 25, "color": "#404040", "align": "left", "baseline": "middle"},
          "encoding": {"text": {"field": "t"}}
        },
        {
          "data": {"name": "tableValues"},
          "mark": {"type": "text", "fontSize": 25, "color": "#1A1A1A", "align": "center", "baseline": "middle"},
          "encoding": {"text": {"field": "t"}}
        }
      ]
    }
  ],
  "resolve": {"scale": {"y": "independent"}}
}
